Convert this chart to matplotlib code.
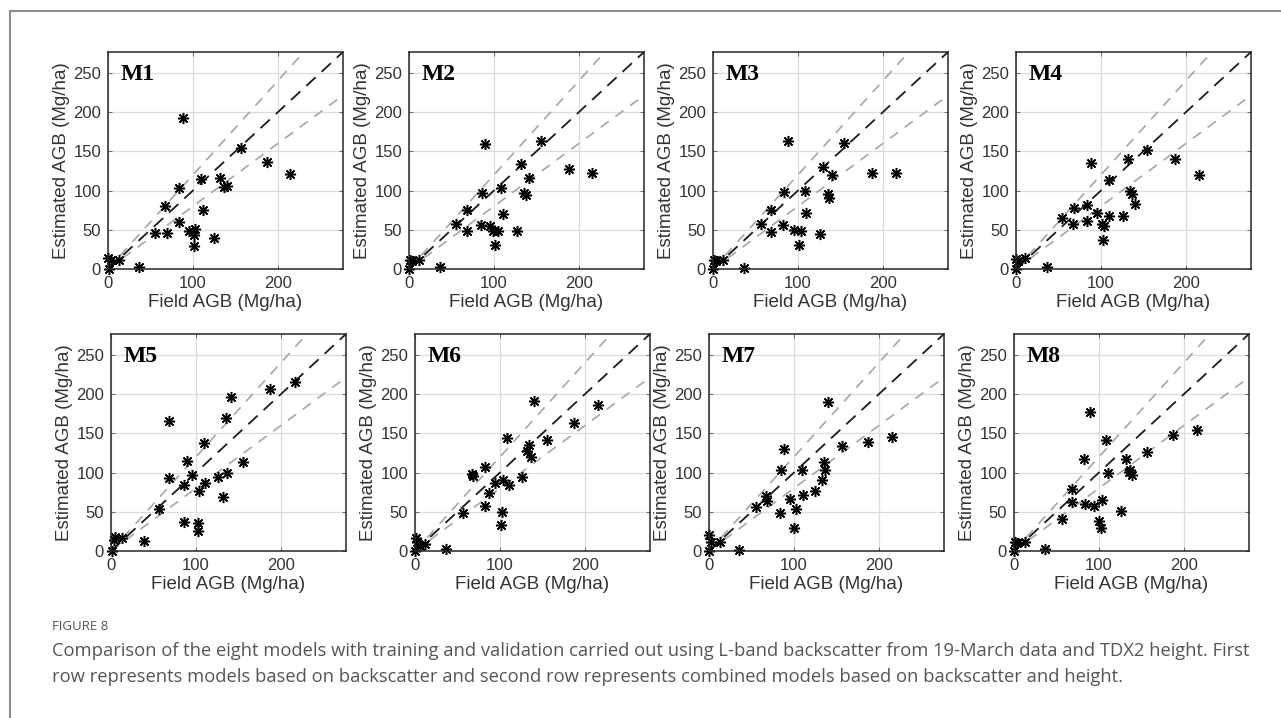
import numpy as np
import matplotlib.pyplot as plt
from matplotlib.lines import Line2D

plt.rcParams['font.family'] = ['Liberation Sans', 'DejaVu Sans']

# ==== data (Field AGB vs Estimated AGB, Mg/ha) ====
models = ["M1", "M2", "M3", "M4", "M5", "M6", "M7", "M8"]

m1_x = [0, 3, 1, 13, 36, 55, 67, 69, 84, 84, 88, 95, 101, 101, 103, 110, 112, 125, 132, 137, 140, 157, 188, 215]
m1_y = [14, 11, 0, 12, 2, 46, 81, 46, 104, 60, 193, 49, 43, 29, 51, 115, 75, 40, 116, 105, 106, 154, 137, 121]

m2_x = [0, 1, 3, 12, 37, 55, 68, 68, 85, 86, 89, 95, 99, 101, 105, 109, 111, 127, 132, 135, 138, 141, 156, 189, 216]
m2_y = [0, 12, 10, 12, 2, 58, 75, 48, 56, 97, 160, 55, 48, 30, 48, 104, 70, 49, 134, 97, 94, 116, 163, 128, 123]

m3_x = [0, 1, 4, 12, 37, 56, 68, 68, 83, 84, 88, 95, 101, 104, 108, 110, 126, 130, 135, 137, 140, 155, 188, 216]
m3_y = [0, 11, 10, 12, 1, 58, 75, 47, 56, 98, 164, 50, 30, 48, 100, 71, 45, 130, 96, 90, 120, 161, 123, 122]

m4_x = [0, 0, 2, 11, 36, 54, 67, 68, 84, 84, 88, 95, 101, 102, 104, 110, 110, 126, 132, 134, 137, 140, 155, 188, 216]
m4_y = [0, 13, 10, 14, 3, 65, 58, 78, 61, 82, 135, 71, 57, 37, 55, 68, 113, 68, 141, 100, 96, 83, 152, 141, 120]

m5_x = [1, 3, 5, 13, 39, 57, 68, 68, 86, 86, 89, 96, 102, 102, 104, 110, 111, 126, 132, 135, 137, 141, 156, 188, 217]
m5_y = [0, 14, 18, 16, 13, 54, 166, 93, 84, 37, 115, 97, 36, 25, 77, 138, 87, 95, 69, 170, 99, 197, 114, 207, 216]

m6_x = [0, 1, 2, 6, 12, 37, 56, 67, 68, 83, 83, 87, 94, 101, 102, 104, 109, 111, 126, 132, 134, 137, 140, 156, 188, 216]
m6_y = [0, 16, 11, 7, 9, 3, 49, 98, 96, 107, 58, 74, 87, 33, 50, 90, 144, 84, 94, 128, 135, 120, 191, 142, 163, 187]

m7_x = [0, 0, 2, 13, 35, 55, 67, 68, 84, 85, 88, 95, 100, 103, 110, 111, 125, 133, 135, 137, 140, 157, 187, 216]
m7_y = [0, 20, 11, 11, 1, 56, 70, 64, 48, 103, 130, 67, 29, 53, 104, 72, 76, 90, 113, 104, 190, 134, 139, 146]

m8_x = [0, 1, 3, 13, 37, 56, 68, 68, 83, 84, 89, 94, 100, 103, 104, 109, 111, 126, 132, 136, 137, 139, 157, 187, 216]
m8_y = [0, 12, 10, 12, 2, 41, 79, 63, 118, 60, 177, 58, 38, 29, 65, 142, 99, 51, 117, 101, 103, 97, 126, 148, 155]

xs = [m1_x, m2_x, m3_x, m4_x, m5_x, m6_x, m7_x, m8_x]
ys = [m1_y, m2_y, m3_y, m4_y, m5_y, m6_y, m7_y, m8_y]

x_ticks = [0, 100, 200]
y_ticks = [0, 50, 100, 150, 200, 250]
lim = 277
band = [1.2, 0.8]  # +/- 20 % lines

caption_head = "FIGURE 8"
caption_lines = ["Comparison of the eight models with training and validation carried out using L-band backscatter "
                 "from 19-March data and TDX2 height. First",
                 "row represents models based on backscatter and second row represents combined models based on "
                 "backscatter and height."]

# ==== layout (pixels) ====
W, H = 1281, 718
fig = plt.figure(figsize=(W / 100, H / 100), dpi=100)

lefts = [108, 409, 713, 1016, 111, 415, 709, 1014]
tops = [52] * 4 + [334] * 4
aw, ah = 235, 217

txt_col = "#333333"
for i, name in enumerate(models):
    ax = fig.add_axes([lefts[i] / W, 1 - (tops[i] + ah) / H, aw / W, ah / H])
    ax.set_xlim(0, lim)
    ax.set_ylim(0, lim)
    ax.set_xticks(x_ticks)
    ax.set_yticks(y_ticks)
    ax.grid(True, color="#dcdcdc", lw=0.9)
    ax.set_axisbelow(True)

    ref = np.array([0, lim])
    ax.plot(ref, ref * band[0], color="#a6a6a6", lw=1.2, ls=(0, (6, 5)))
    ax.plot(ref, ref * band[1], color="#a6a6a6", lw=1.2, ls=(0, (6, 5)))
    ax.plot(ref, ref, color="#1a1a1a", lw=1.3, ls=(0, (7, 4.5)))

    ax.plot(xs[i], ys[i], ls="none", marker=(8, 2, 0), ms=8, mew=1.1,
            color="black", clip_on=False)

    ax.tick_params(direction="in", length=3, width=0.6, top=True, right=True,
                   labelsize=12, labelcolor=txt_col, pad=5, color="#555555")
    for s in ax.spines.values():
        s.set_color("#262626")
        s.set_linewidth(1.1)
    ax.set_xlabel("Field AGB (Mg/ha)", fontsize=13.5, color=txt_col, labelpad=2)
    ax.set_ylabel("Estimated AGB (Mg/ha)", fontsize=13.5, color=txt_col, labelpad=2)
    ax.text(0.055, 0.87, name, transform=ax.transAxes, fontsize=17,
            fontweight="bold", family="Liberation Serif", va="baseline")

# frame of the figure page
fig.add_artist(Line2D([10 / W, 1], [1 - 11 / H, 1 - 11 / H], color="#8c8c8c", lw=1.5))
fig.add_artist(Line2D([10 / W, 10 / W], [0, 1 - 11 / H], color="#8c8c8c", lw=1.5))

fig.text(52 / W, 1 - 626 / H, caption_head, fontsize=9.5, color="#555555",
         family="Open Sans", va="center")
for k, line in enumerate(caption_lines):
    fig.text(52 / W, 1 - (651 + 26 * k) / H, line, fontsize=13.2, color="#555555",
             family="Open Sans", va="center")

fig.savefig("out.png", dpi=100)
